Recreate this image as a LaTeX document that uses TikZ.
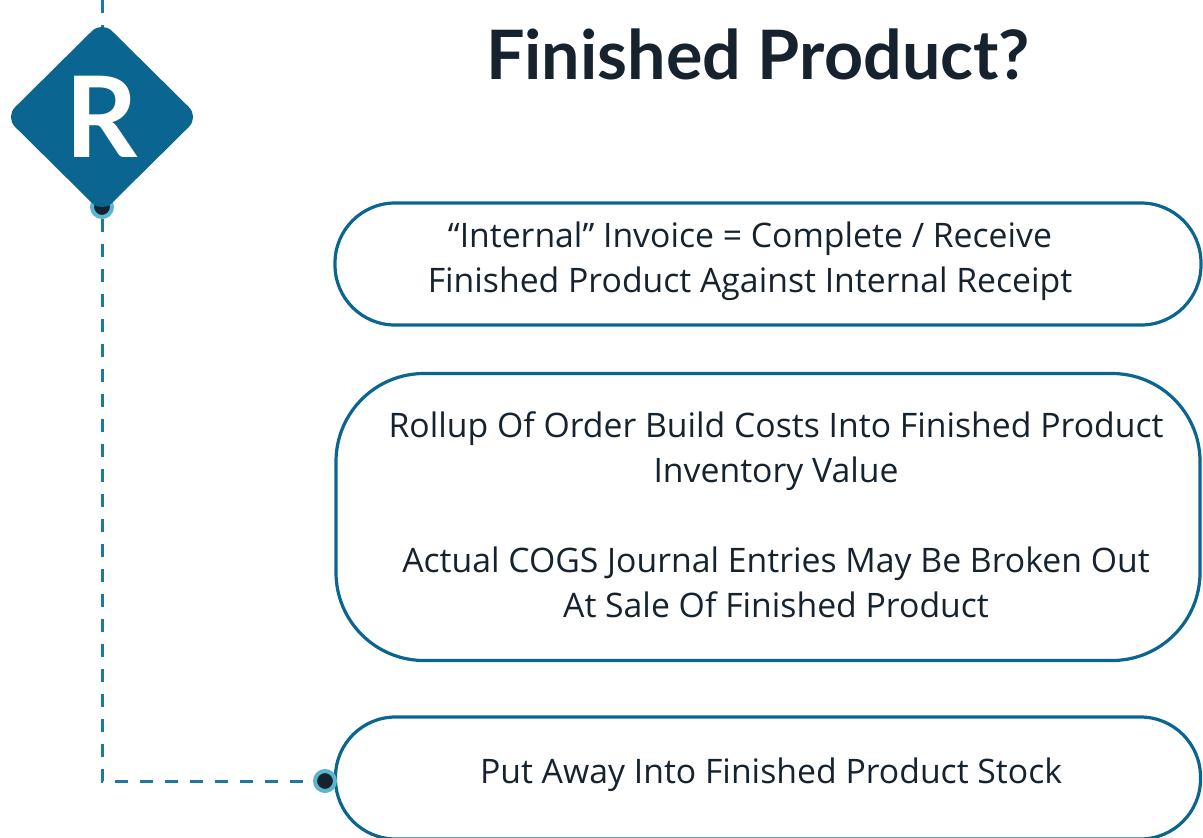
\documentclass[tikz,border=0pt]{standalone}
\usepackage{fontspec}
\setmainfont{Open Sans}
\newfontfamily\titulofont{Lato}
\usepackage{tikz}
\usetikzlibrary{shapes.geometric, positioning, calc}
\definecolor{azul}{HTML}{0A6690}
\definecolor{celeste}{HTML}{5BB4D0}
\definecolor{tinta}{HTML}{16232E}
\newlength\pxl
\setlength\pxl{0.025cm}
\tikzset{
  every picture/.style={font=\rmfamily},
  caja/.style={draw=azul, line width=3.2\pxl, rounded corners=#1, inner sep=0pt},
  texto/.style={text=tinta, align=center, font=\fontsize{24}{32}\selectfont},
  rombo/.style={diamond, fill=azul, rounded corners=14\pxl, inner sep=0pt,
                minimum width=194\pxl, minimum height=192\pxl, text=white,
                font=\titulofont\fontsize{80}{80}\selectfont\bfseries},
  punto/.style={circle, fill=tinta, draw=celeste, line width=4\pxl, inner sep=0pt, minimum size=20\pxl},
  guia/.style={azul!75!celeste, line width=3\pxl, dash pattern=on 13\pxl off 12\pxl},
}
\begin{document}
\begin{tikzpicture}[x=\pxl, y=-\pxl]
  \useasboundingbox (0,0) rectangle (1203,837);
  % titulo
  \node[text=tinta, font=\titulofont\fontsize{48.5}{48.5}\selectfont\bfseries] (tit) at (758,54) {Finished Product?};
  % cajas
  \node[caja=60\pxl, minimum width=866\pxl, minimum height=122\pxl] (c1) at (768,264) {};
  \node[caja=88\pxl, minimum width=864\pxl, minimum height=287\pxl] (c2) at (768,517) {};
  \node[caja=60\pxl, minimum width=865\pxl, minimum height=122\pxl] (c3) at (768,778) {};
  \node[texto] (t1) at (750,261) {“Internal” Invoice = Complete / Receive\\Finished Product Against Internal Receipt};
  \node[texto] (t2) at (776,515) {Rollup Of Order Build Costs Into Finished Product\\Inventory Value\\[32pt]Actual COGS Journal Entries May Be Broken Out\\At Sale Of Finished Product};
  \node[texto] (t3) at (771,775) {Put Away Into Finished Product Stock};
  % guia
  \coordinate (arriba) at (102,0);
  \node[punto] (p1) at (102,207) {};
  \node[punto] (p2) at (325,781) {};
  \draw[guia] (arriba) -- (102,30);
  \draw[guia] (p1) |- (p2);
  \node[rombo] (r) at (102,117) {R};
\end{tikzpicture}
\end{document}
